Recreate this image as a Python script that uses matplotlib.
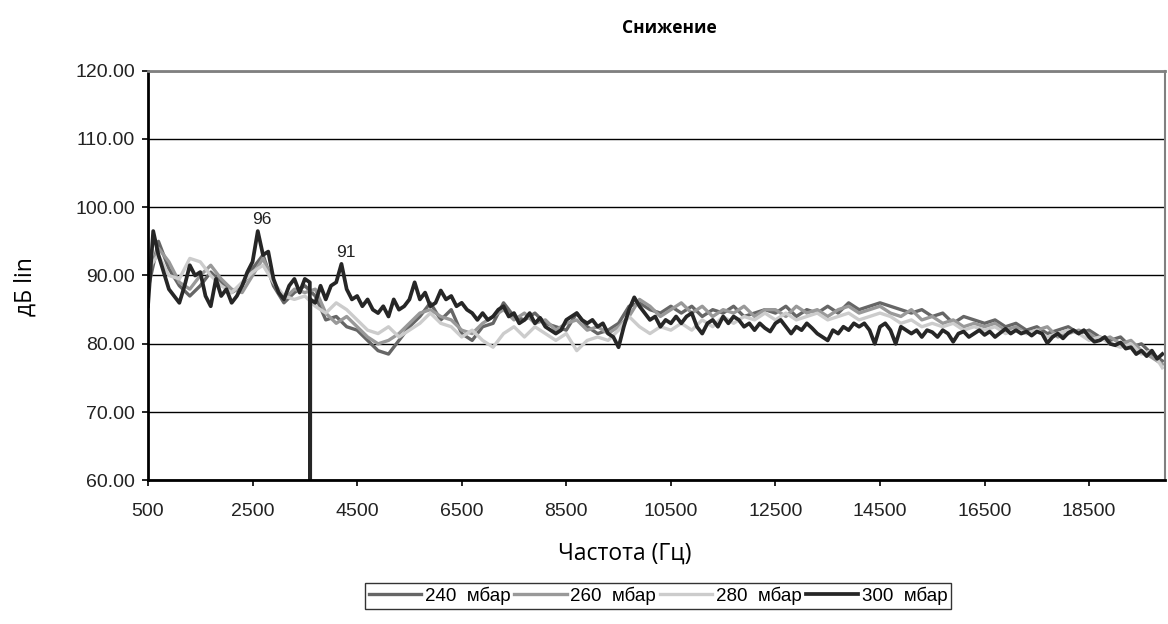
import matplotlib
matplotlib.use("Agg")
import matplotlib.pyplot as plt
import numpy as np

# frequency grids (Hz)
freq_300 = np.arange(500, 20000, 100)
freq_grey = np.arange(500, 20000, 200)

# 300 mbar, 100 Hz step (3600 Hz = signal dropout)
level_300 = [
    85.5, 96.5, 93, 90.5, 88, 87, 86, 88.5, 91.5, 90,
    90.5, 87, 85.5, 89.5, 87, 88, 86, 87, 88.5, 90.5,
    92, 96.5, 93, 93.5, 89.5, 87.5, 86.5, 88.5, 89.5, 87.5,
    89.5, 40, 86, 88.5, 86.5, 88.5, 89, 91.7, 88, 86.5,
    87, 85.5, 86.5, 85, 84.5, 85.5, 84, 86.5, 85, 85.5,
    86.5, 89, 86.5, 87.5, 85.5, 86, 87.8, 86.5, 87, 85.5,
    86, 85, 84.5, 83.5, 84.5, 83.5, 84, 85, 85.5, 84,
    84.5, 83, 83.5, 84.5, 83, 83.8, 82.5, 82, 81.5, 82,
    83.5, 84, 84.5, 83.5, 83, 83.5, 82.5, 83, 81.5, 81,
    79.5, 82.5, 85, 86.8, 85.5, 84.5, 83.5, 84, 82.5, 83.5,
    83, 84, 83, 84, 84.5, 82.5, 81.5, 83, 83.5, 82.5,
    84, 83, 84, 83.5, 82.5, 83, 82, 83, 82.3, 81.8,
    83, 83.5, 82.5, 81.5, 82.5, 82, 83, 82.3, 81.5, 81,
    80.5, 82, 81.5, 82.5, 82, 83, 82.5, 83, 82, 80,
    82.5, 83, 82, 80, 82.5, 82, 81.5, 82, 81, 82,
    81.7, 81, 82, 81.5, 80.3, 81.5, 81.8, 81, 81.5, 82,
    81.3, 81.8, 81, 81.6, 82.2, 81.5, 82, 81.5, 81.8, 81.2,
    81.8, 81.5, 80.1, 81, 81.5, 80.8, 81.6, 82, 81.5, 82,
    81, 80.3, 80.5, 81, 80, 79.8, 80.2, 79.3, 79.5, 78.5,
    79, 78.2, 79, 77.8, 78.5,
]
# edges of the dropout at 3600 Hz
dropout_freq = [3595, 3605]
dropout_level = [89, 86.5]

# 240 / 260 / 280 mbar, 200 Hz step
level_240 = [
    88, 95, 91, 88.5, 87, 88.5, 90.5, 89, 87.5, 88.5,
    91, 93, 88.5, 86, 87.5, 88.5, 87, 83.5, 84, 82.5,
    82, 80.5, 79, 78.5, 80.5, 82.5, 84, 86, 83.5, 85,
    81.5, 80.5, 82.5, 83, 86, 84, 83.5, 84.5, 83, 82.5,
    82, 84.5, 82.5, 81.5, 82, 83, 85.5, 86, 85, 84.5,
    85.5, 84.5, 85.5, 84, 85, 84.5, 85.5, 84, 84.5, 85,
    84.5, 85.5, 84, 85, 84.5, 85.5, 84.5, 86, 85, 85.5,
    86, 85.5, 85, 84.5, 85, 84, 84.5, 83, 84, 83.5,
    83, 83.5, 82.5, 83, 82, 82.5, 81.5, 82, 82.5, 81.5,
    82, 81, 80.5, 81, 79.5, 80, 78.5, 77.5,
]
level_260 = [
    90, 94, 92, 89, 88, 90, 91.5, 89.5, 88, 87.5,
    90, 92.5, 89, 86.5, 88, 87.5, 88, 84.5, 83, 84,
    82.5, 81, 80, 80.5, 81.5, 83, 84.5, 85, 84, 83.5,
    82, 81.5, 83, 84, 85, 83.5, 84.5, 83, 83.5, 82,
    83, 83.5, 82, 82.5, 81.5, 82.5, 84, 86.5, 85.5, 84,
    85, 86, 84.5, 85.5, 84, 85, 84.5, 85.5, 84, 85,
    85, 84, 85.5, 84.5, 85, 84, 85, 85.5, 84.5, 85,
    85.5, 84.5, 84, 85, 83.5, 84, 83, 83.5, 82.5, 83,
    82.5, 83, 82, 82.5, 81.5, 82, 82.5, 81, 81.5, 82,
    81.5, 80.5, 81, 80, 80.5, 79, 78, 77,
]
level_280 = [
    91, 93, 90, 89.5, 92.5, 92, 90, 88.5, 87.5, 89,
    90.5, 91.5, 89, 87, 86.5, 87, 85.5, 84.5, 86, 85,
    83.5, 82, 81.5, 82.5, 81, 82, 83, 84.5, 83, 82.5,
    81, 82, 80.5, 79.5, 81.5, 82.5, 81, 82.5, 81.5, 80.5,
    81.5, 79, 80.5, 81, 80.5, 82, 84, 82.5, 81.5, 82.5,
    82, 83, 82, 83.5, 82.5, 84, 83, 84, 83.5, 84.5,
    83.5, 84.5, 83.5, 84, 84.5, 83.5, 84, 84.5, 83.5, 84,
    84.5, 84, 83, 83.5, 82.5, 83, 82.5, 83, 82, 82.5,
    82, 82.5, 81.5, 82, 81.5, 82, 81, 81.5, 82, 81.5,
    80.5, 81, 80, 79.5, 80, 78.5, 79, 76.5,
]

series_names = ["240  мбар", "260  мбар", "280  мбар", "300  мбар"]
peak_labels = [(2600, 96.5, "96"), (4200, 91.7, "91")]

# black line with the dropout edges merged in
f300 = np.concatenate([freq_300, dropout_freq])
l300 = np.concatenate([level_300, dropout_level])
order = np.argsort(f300)
f300, l300 = f300[order], l300[order]

fig = plt.figure(figsize=(11.68, 6.24), dpi=100)
ax = fig.add_axes([0.1267, 0.23, 0.8707, 0.657])

ax.plot(freq_grey, level_240, color="#666666", lw=2.4, label=series_names[0])
ax.plot(freq_grey, level_260, color="#999999", lw=2.4, label=series_names[1])
ax.plot(freq_grey, level_280, color="#cccccc", lw=2.4, label=series_names[2])
ax.plot(f300, l300, color="#262626", lw=2.7, label=series_names[3])

for fx, fy, txt in peak_labels:
    ax.annotate(txt, xy=(fx, fy), xytext=(3, 3), textcoords="offset points",
                ha="center", va="bottom", fontsize=12.5, family="Liberation Sans",
                color="#222222")

ax.set_xlim(500, 19950)
ax.set_ylim(60, 120)
ax.set_xticks(np.arange(500, 19000, 2000))
ax.set_yticks(np.arange(60, 121, 10))
ax.set_yticklabels([f"{v:.2f}" for v in np.arange(60, 121, 10)])
ax.yaxis.grid(True, color="black", lw=1)
ax.set_axisbelow(True)
ax.tick_params(axis="both", direction="out", length=4.5, width=1.2, labelsize=14,
               colors="black")
ax.tick_params(axis="y", pad=5)
ax.tick_params(axis="x", pad=12)
for lab in ax.get_xticklabels() + ax.get_yticklabels():
    lab.set_family("Liberation Sans")
    lab.set_color("#222222")

ax.spines["left"].set_linewidth(2)
ax.spines["bottom"].set_linewidth(2)
ax.spines["top"].set_color("#808080")
ax.spines["top"].set_linewidth(2)
ax.spines["right"].set_color("#808080")
ax.spines["right"].set_linewidth(1.5)

label_font = ["Open Sans", "DejaVu Sans"]
fig.text(0.573, 0.955, "Снижение", ha="center", va="center", fontsize=12.5,
         fontweight="bold", family=label_font)
fig.text(0.535, 0.113, "Частота (Гц)", ha="center", va="center", fontsize=16.5,
         family=label_font)
fig.text(0.022, 0.54, "дБ lin", ha="center", va="center", rotation=90,
         fontsize=16.5, family=label_font)

leg = fig.legend(loc="upper center", bbox_to_anchor=(0.5634, 0.066), ncol=4,
                 frameon=True, fancybox=False, edgecolor="black",
                 prop={"family": "Liberation Sans", "size": 13.5},
                 handlelength=2.8, handletextpad=0.2, columnspacing=0.2,
                 borderpad=0.2, borderaxespad=0)
leg.get_frame().set_linewidth(1)

fig.savefig("out.png", dpi=100)
